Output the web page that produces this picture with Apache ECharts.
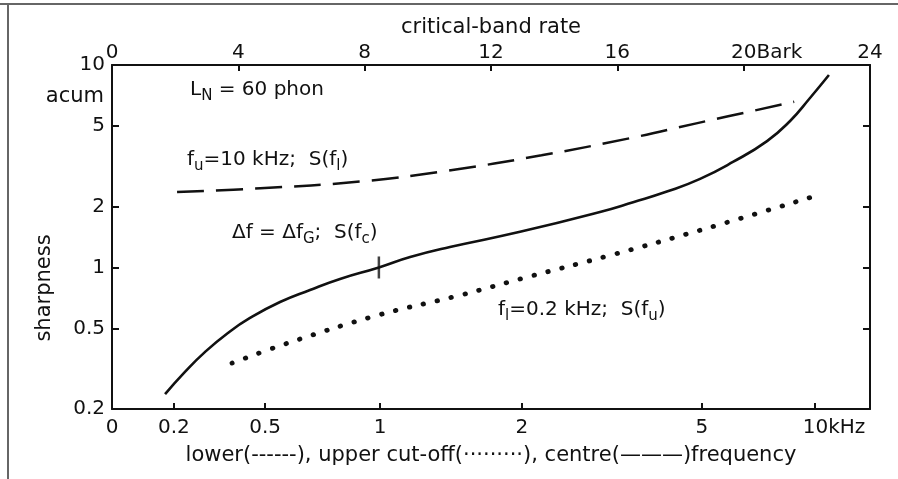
<!DOCTYPE html>
<html>
<head>
<meta charset="utf-8">
<script src="https://cdn.jsdelivr.net/npm/echarts@6/dist/echarts.min.js"></script>
<style>
  html, body { margin: 0; padding: 0; background: #fff; }
  #chart { width: 898px; height: 479px; }
</style>
</head>
<body>
<div id="chart"></div>
<script>
// Critical-band rate (Bark) ticks on the top axis
const barkTicks = [0, 4, 8, 12, 16, 20, 24];
// Frequency ticks on the bottom axis, placed at their critical-band rate
const freqLabels = ['0', '0.2', '0.5', '1', '2', '5', '10'];
const freqBark = [0, 1.96, 4.85, 8.49, 12.98, 18.68, 22.26];
// Sharpness ticks (acum, log scale)
const sharpnessTicks = [0.2, 0.5, 1, 2, 5, 10];

// Critical-band wide noise: sharpness vs. centre frequency
const centreBark = [1.68, 2.31, 2.94, 3.67, 4.37, 5.32, 6.27, 7.22, 8.45, 9.44, 10.7, 12.92, 15.45, 16.5, 17.57, 18.62, 19.66, 20.74, 21.47, 22.1, 22.7];
const centreSharp = [0.237, 0.305, 0.382, 0.475, 0.563, 0.675, 0.774, 0.877, 1.0, 1.126, 1.262, 1.5, 1.88, 2.1, 2.37, 2.74, 3.32, 4.21, 5.29, 6.87, 8.92];
// High-pass noise (upper cut-off 10 kHz): sharpness vs. lower cut-off
const lowerBark = [2.06, 4.7, 7.9, 10.6, 13.6, 16.4, 18.5, 21.6];
const lowerSharp = [2.36, 2.46, 2.66, 3.0, 3.58, 4.35, 5.15, 6.58];
// Low-pass noise (lower cut-off 0.2 kHz): sharpness vs. upper cut-off
const upperBark = [3.8, 5.58, 8.4, 11.03, 13.19, 15.79, 18.64, 22.29];
const upperSharp = [0.337, 0.424, 0.58, 0.73, 0.90, 1.15, 1.53, 2.26];
// Reference: 1 kHz critical-band noise = 1 acum
const refPoint = [[8.45, 1.0]];

const FONT = 'DejaVu Sans';
const INK = '#111';
const pairs = (xs, ys) => xs.map((x, i) => [x, ys[i]]);
const nearestIndex = (arr, v) => {
  let best = 0;
  arr.forEach((a, i) => { if (Math.abs(a - v) < Math.abs(arr[best] - v)) best = i; });
  return best;
};

const axisLine = { show: true, onZero: false, lineStyle: { color: INK, width: 2 } };
const textBase = { color: INK, fontFamily: FONT, fontSize: 20 };
const subRich = {
  a: { ...textBase, verticalAlign: 'middle' },
  s: { ...textBase, fontSize: 15, padding: [12, 0, 0, 0], verticalAlign: 'middle' }
};

const chart = echarts.init(document.getElementById('chart'), null, { renderer: 'canvas' });

chart.setOption({
  animation: false,
  backgroundColor: '#fff',
  grid: { left: 112, top: 65, width: 758, height: 344, containLabel: false },
  xAxis: [
    {
      type: 'value', position: 'bottom', min: 0, max: 24,
      axisLine,
      axisTick: { show: true, inside: true, length: 6, customValues: freqBark, lineStyle: { color: INK, width: 2 } },
      axisLabel: {
        ...textBase, margin: 9, customValues: freqBark,
        formatter: v => {
          const lab = freqLabels[nearestIndex(freqBark, v)];
          return lab === '10' ? '{n|10}{u|kHz}' : lab;
        },
        rich: { n: { ...textBase, padding: [0, 0, 0, 38] }, u: { ...textBase } }
      },
      splitLine: { show: false },
      name: 'lower(------), upper cut-off(\u00b7\u00b7\u00b7\u00b7\u00b7\u00b7\u00b7\u00b7\u00b7), centre(\u2014\u2014\u2014)frequency',
      nameLocation: 'middle', nameGap: 36,
      nameTextStyle: { ...textBase, fontSize: 21 }
    },
    {
      type: 'value', position: 'top', min: 0, max: 24, interval: 4,
      axisLine,
      axisTick: { show: true, inside: true, length: 6, lineStyle: { color: INK, width: 2 } },
      axisLabel: {
        ...textBase, margin: 2,
        formatter: v => (v === 20 ? '{n|20}{u|Bark}' : String(v)),
        rich: { n: { ...textBase, padding: [0, 0, 0, 46] }, u: { ...textBase } }
      },
      splitLine: { show: false },
      name: 'critical-band rate', nameLocation: 'middle', nameGap: 26,
      nameTextStyle: { ...textBase, fontSize: 21 }
    }
  ],
  yAxis: [
    {
      type: 'log', logBase: 10, min: 0.2, max: 10, position: 'left',
      axisLine,
      axisTick: { show: true, inside: true, length: 7, customValues: sharpnessTicks, lineStyle: { color: INK, width: 2 } },
      axisLabel: {
        ...textBase, margin: 7, customValues: sharpnessTicks,
        formatter: v => String(sharpnessTicks[nearestIndex(sharpnessTicks, v)])
      },
      minorTick: { show: false },
      splitLine: { show: false }
    },
    {
      type: 'log', logBase: 10, min: 0.2, max: 10, position: 'right',
      axisLine,
      axisTick: { show: true, inside: true, length: 7, customValues: sharpnessTicks, lineStyle: { color: INK, width: 2 } },
      axisLabel: { show: false },
      minorTick: { show: false },
      splitLine: { show: false }
    }
  ],
  series: [
    {
      name: 'centre', type: 'line', xAxisIndex: 0, yAxisIndex: 0,
      data: pairs(centreBark, centreSharp), smooth: 0.5, showSymbol: false, silent: true,
      lineStyle: { color: INK, width: 2.6 }
    },
    {
      name: 'lower cut-off', type: 'line', xAxisIndex: 0, yAxisIndex: 0,
      data: pairs(lowerBark, lowerSharp), smooth: 0.4, showSymbol: false, silent: true,
      lineStyle: { color: INK, width: 2.5, type: [27, 12] }
    },
    {
      name: 'upper cut-off', type: 'line', xAxisIndex: 0, yAxisIndex: 0,
      data: pairs(upperBark, upperSharp), smooth: 0.4, showSymbol: false, silent: true,
      lineStyle: { color: INK, width: 4.8, type: [0.5, 13.8], cap: 'round' }
    },
    {
      name: 'reference', type: 'scatter', xAxisIndex: 0, yAxisIndex: 0,
      data: refPoint, symbol: 'rect', symbolSize: [2.5, 22], silent: true,
      itemStyle: { color: INK }
    }
  ],
  graphic: [
    { type: 'rect', shape: { x: 0, y: 3, width: 898, height: 2 }, style: { fill: '#666' }, silent: true },
    { type: 'rect', shape: { x: 7, y: 3, width: 2, height: 476 }, style: { fill: '#666' }, silent: true },
    {
      type: 'text', x: 104, y: 97,
      style: { text: 'acum', fill: INK, fontFamily: FONT, fontSize: 21, textAlign: 'right', textVerticalAlign: 'middle' }
    },
    {
      type: 'text', x: 45, y: 288, rotation: Math.PI / 2,
      style: { text: 'sharpness', fill: INK, fontFamily: FONT, fontSize: 21, textAlign: 'center', textVerticalAlign: 'middle' }
    },
    {
      type: 'text', x: 190, y: 90,
      style: { text: '{a|L}{s|N}{a| = 60 phon}', fill: INK, textVerticalAlign: 'middle', rich: subRich }
    },
    {
      type: 'text', x: 187, y: 160,
      style: { text: '{a|f}{s|u}{a|=10 kHz;  S(f}{s|l}{a|)}', fill: INK, textVerticalAlign: 'middle', rich: subRich }
    },
    {
      type: 'text', x: 232, y: 233,
      style: { text: '{a|\u0394f = \u0394f}{s|G}{a|;  S(f}{s|c}{a|)}', fill: INK, textVerticalAlign: 'middle', rich: subRich }
    },
    {
      type: 'text', x: 498, y: 310,
      style: { text: '{a|f}{s|l}{a|=0.2 kHz;  S(f}{s|u}{a|)}', fill: INK, textVerticalAlign: 'middle', rich: subRich }
    }
  ]
});
</script>
</body>
</html>
